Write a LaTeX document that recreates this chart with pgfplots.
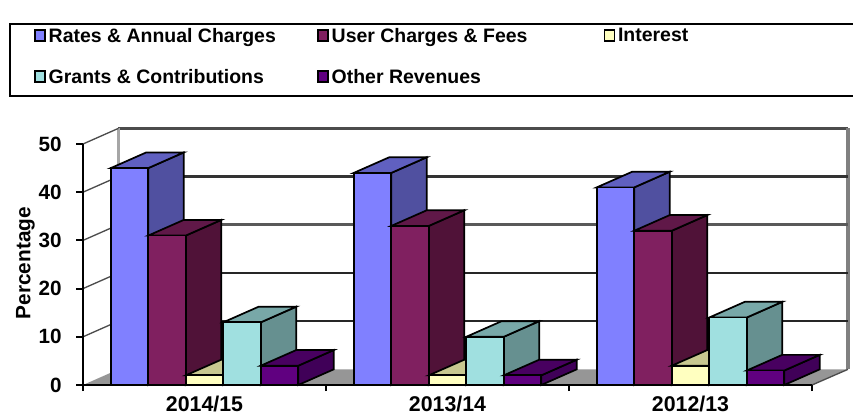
\documentclass[border=0pt]{standalone}
\usepackage{fontspec}
\setmainfont{Liberation Sans}
\usepackage{pgfplots}
\pgfplotsset{compat=1.18}
\definecolor{blueF}{HTML}{8080FF}\definecolor{blueS}{HTML}{5050A0}\definecolor{blueT}{HTML}{6060C0}
\definecolor{marF}{HTML}{802060}\definecolor{marS}{HTML}{501238}\definecolor{marT}{HTML}{601848}
\definecolor{yelF}{HTML}{FFFFC0}\definecolor{yelS}{HTML}{A0A078}\definecolor{yelT}{HTML}{C8C890}
\definecolor{cyaF}{HTML}{A0E0E0}\definecolor{cyaS}{HTML}{669090}\definecolor{cyaT}{HTML}{78A8A8}
\definecolor{purF}{HTML}{600080}\definecolor{purS}{HTML}{400058}\definecolor{purT}{HTML}{480060}
\definecolor{floorC}{HTML}{969696}
% depth offset in axis units
\def\dx{0.146}\def\dy{3.25}\def\bw{0.1543}
\newcommand\faces[5]{% center, series index, value, side colour, top colour
  \pgfmathsetmacro\xl{#1+(#2-0.5)*\bw}
  \pgfmathsetmacro\xr{#1+(#2+0.5)*\bw}
  \pgfmathsetmacro\xlb{\xl+\dx}
  \pgfmathsetmacro\xrb{\xr+\dx}
  \pgfmathsetmacro\vt{#3+\dy}
  \addplot[forget plot,fill=#4,draw=black,line width=1.3pt] coordinates {(\xr,0)(\xrb,\dy)(\xrb,\vt)(\xr,#3)} -- cycle;
  \addplot[forget plot,fill=#5,draw=black,line width=1.3pt] coordinates {(\xl,#3)(\xlb,\vt)(\xrb,\vt)(\xr,#3)} -- cycle;
}
\newcommand\fronts[3]{% index, colour, coords
  \addplot[forget plot,ybar,bar width=\bw,bar shift={#1*\bw},fill=#2,draw=black,line width=1.3pt] coordinates {#3};
}
\begin{document}
\begin{tikzpicture}
\useasboundingbox (0,0) rectangle (639.75pt,314.25pt);
\begin{axis}[
  at={(62.25pt,25.5pt)},anchor=south west,scale only axis,
  width=546.75pt,height=180.75pt,
  xmin=0,xmax=3,ymin=0,ymax=50,clip=false,axis on top,
  axis lines=left,axis line style={-,line width=1.8pt},
  tick align=outside,
  xtick={0.5,1.5,2.5},xticklabels={2014/15,2013/14,2012/13},
  minor xtick={0,1,2,3},
  major x tick style={draw=none},
  minor x tick style={black,line width=1.5pt},
  minor tick length=4.5pt,
  ytick={0,10,20,30,40,50},
  y tick style={black,line width=1.5pt},
  major tick length=5pt,
  /pgf/number format/assume math mode=true,
  yticklabel style={font=\bfseries\fontsize{15.5}{17}\selectfont,xshift=-7.5pt},
  xticklabel style={font=\bfseries\fontsize{16}{16}\selectfont,yshift=-1.5pt,inner sep=0pt,outer sep=2pt},
  ylabel={Percentage},
  ylabel style={at={(axis description cs:-0.079,0.506)},anchor=center,font=\bfseries\fontsize{15.6}{17}\selectfont},
  legend columns=3,
  legend cell align=left,
  legend style={draw=none,fill=none,at={(axis description cs:-0.0672,1.4935)},anchor=north west,
    font=\bfseries\fontsize{14.6}{16}\selectfont,inner sep=0pt,
    /tikz/every even column/.append style={column sep=0pt},
    /tikz/row sep=14.75pt},
]
% floor and walls
\addplot[forget plot,fill=floorC,draw=none] coordinates {(0,0)(3,0)(3.148,3.25)(0.146,3.25)} -- cycle;
\addplot[forget plot,draw=black!70,line width=1.8pt] coordinates {(0.146,53.25)(3.148,53.25)};
\addplot[forget plot,draw=gray!70,line width=2pt] coordinates {(0.146,3.25)(0.146,53.25)};
\addplot[forget plot,draw=gray,line width=2.4pt] coordinates {(3.148,3.25)(3.148,53.25)};
\addplot[forget plot,draw=black!85,line width=2pt] coordinates {(0.146,13.25)(3.148,13.25)};
\addplot[forget plot,draw=black!85,line width=2pt] coordinates {(0.146,23.25)(3.148,23.25)};
\addplot[forget plot,draw=black!65,line width=2.2pt] coordinates {(0.146,33.25)(3.148,33.25)};
\addplot[forget plot,draw=black!80,line width=2.2pt] coordinates {(0.146,43.25)(3.148,43.25)};
\addplot[forget plot,draw=black!70,line width=1pt] coordinates {(0,10)(0.146,13.25)};
\addplot[forget plot,draw=black!70,line width=1pt] coordinates {(0,20)(0.146,23.25)};
\addplot[forget plot,draw=black!70,line width=1pt] coordinates {(0,30)(0.146,33.25)};
\addplot[forget plot,draw=black!70,line width=1pt] coordinates {(0,40)(0.146,43.25)};
\addplot[forget plot,draw=black!70,line width=1pt] coordinates {(0,50)(0.146,53.25)};
\addplot[forget plot,draw=black!70,line width=1pt] coordinates {(3,0)(3.148,3.25)};
% series 1
\faces{0.5}{-2}{45}{blueS}{blueT}\faces{1.5}{-2}{44}{blueS}{blueT}\faces{2.5}{-2}{41}{blueS}{blueT}
\fronts{-2}{blueF}{(0.5,45)(1.5,44)(2.5,41)}
% series 2
\faces{0.5}{-1}{31}{marS}{marT}\faces{1.5}{-1}{33}{marS}{marT}\faces{2.5}{-1}{32}{marS}{marT}
\fronts{-1}{marF}{(0.5,31)(1.5,33)(2.5,32)}
% series 3
\faces{0.5}{0}{2}{yelS}{yelT}\faces{1.5}{0}{2}{yelS}{yelT}\faces{2.5}{0}{4}{yelS}{yelT}
\fronts{0}{yelF}{(0.5,2)(1.5,2)(2.5,4)}
% series 4
\faces{0.5}{1}{13}{cyaS}{cyaT}\faces{1.5}{1}{10}{cyaS}{cyaT}\faces{2.5}{1}{14}{cyaS}{cyaT}
\fronts{1}{cyaF}{(0.5,13)(1.5,10)(2.5,14)}
% series 5
\faces{0.5}{2}{4}{purS}{purT}\faces{1.5}{2}{2}{purS}{purT}\faces{2.5}{2}{3}{purS}{purT}
\fronts{2}{purF}{(0.5,4)(1.5,2)(2.5,3)}
% legend
\pgfplotsset{/pgfplots/legend image code/.code={\draw[fill=#1,draw=black,line width=1.3pt] (0pt,-3.5pt) rectangle (7.5pt,4.5pt);\path (8pt,0);}}
\addlegendimage{blueF}\addlegendentry{Rates \& Annual Charges\rule{29pt}{0pt}}
\addlegendimage{marF}\addlegendentry{User Charges \& Fees\rule{55pt}{0pt}}
\addlegendimage{yelF}\addlegendentry{Interest}
\addlegendimage{cyaF}\addlegendentry{Grants \& Contributions}
\addlegendimage{purF}\addlegendentry{Other Revenues}
\end{axis}
\draw[black,line width=1.5pt] (640pt,296.5pt) -- (7.5pt,296.5pt) -- (7.5pt,242pt) -- (640pt,242pt);
\end{tikzpicture}
\end{document}
